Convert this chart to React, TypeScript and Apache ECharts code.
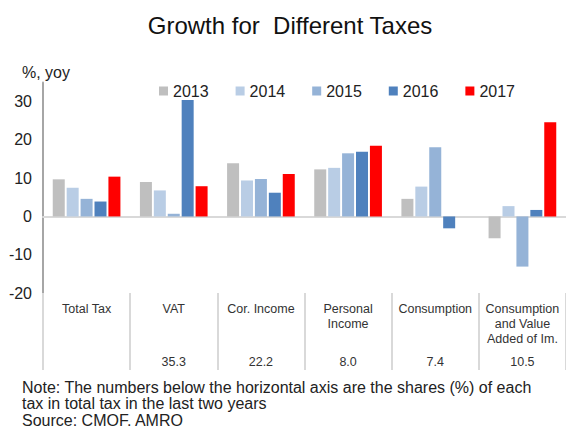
import React, { useEffect, useRef } from "react";
import * as echarts from "echarts";

const categories = [
  "Total Tax",
  "VAT",
  "Cor. Income",
  "Personal\nIncome",
  "Consumption",
  "Consumption\nand Value\nAdded of Im.",
];
const shares = ["", "35.3", "22.2", "8.0", "7.4", "10.5"];
const years = ["2013", "2014", "2015", "2016", "2017"];
const colors = ["#BFBFBF", "#B9CDE5", "#95B3D7", "#4F81BD", "#FF0000"];
const v2013 = [9.7, 9.0, 13.9, 12.3, 4.6, -5.7];
const v2014 = [7.5, 6.8, 9.4, 12.7, 7.8, 2.7];
const v2015 = [4.6, 0.7, 9.8, 16.5, 18.1, -13.1];
const v2016 = [3.9, 30.4, 6.2, 16.9, -3.1, 1.7];
const v2017 = [10.4, 7.9, 11.1, 18.5, null, 24.6];
const seriesValues = [v2013, v2014, v2015, v2016, v2017];
const noteLines = [
  "Note: The numbers below the horizontal axis are the shares (%) of each",
  "tax in total tax in the last two years",
  "Source: CMOF, AMRO",
];

const FONT = "'Liberation Sans', Arial, sans-serif";

export default function App() {
  const ref = useRef<HTMLDivElement>(null);
  useEffect(() => {
    document.body.style.margin = "0";
    if (!ref.current) return;
    const chart = echarts.init(ref.current, undefined, { renderer: "svg" });
    chart.setOption({
      animation: false,
      textStyle: { fontFamily: FONT },
      graphic: [
        {
          type: "text",
          x: 290,
          y: 25,
          style: {
            text: "Growth for  Different Taxes",
            fontSize: 24,
            fontFamily: FONT,
            fill: "#111",
            textAlign: "center",
            textVerticalAlign: "middle",
          },
        },
        {
          type: "text",
          x: 22,
          y: 72,
          style: {
            text: "%, yoy",
            fontSize: 16,
            fontFamily: FONT,
            fill: "#222",
            textVerticalAlign: "middle",
          },
        },
        {
          type: "text",
          x: 22,
          y: 379.5,
          style: {
            text: noteLines.join("\n"),
            fontSize: 16,
            lineHeight: 16.2,
            fontFamily: FONT,
            fill: "#222",
          },
        },
      ],
      legend: {
        left: 159,
        top: 83,
        padding: 0,
        itemWidth: 9,
        itemHeight: 9,
        itemGap: 27,
        icon: "rect",
        textStyle: { fontSize: 16, color: "#222", fontFamily: FONT },
        data: years,
      },
      grid: { left: 43, top: 82.5, height: 210.5, right: 0 },
      xAxis: [
        {
          type: "category",
          data: categories,
          axisLine: { onZero: true, lineStyle: { color: "#D9D9D9", width: 2 } },
          axisTick: { show: false },
          axisLabel: { show: false },
        },
        {
          type: "category",
          data: categories,
          position: "bottom",
          axisLine: { show: false, onZero: false },
          axisTick: {
            show: true,
            interval: 0,
            length: 77,
            inside: false,
            lineStyle: { color: "#D9D9D9", width: 2 },
          },
          axisLabel: {
            interval: 0,
            margin: 8.5,
            formatter: (value: string, index: number) => {
              const lines = value.split("\n");
              while (lines.length < 3) lines.push(" ");
              const share = shares[index] || " ";
              return lines.map((l) => `{n|${l}}`).join("\n") + `\n{v|${share}}`;
            },
            rich: {
              n: { fontSize: 12.5, lineHeight: 15, color: "#333", fontFamily: FONT, align: "center" },
              v: { fontSize: 12.5, lineHeight: 31, color: "#333", fontFamily: FONT, align: "center" },
            },
          },
        },
      ],
      yAxis: {
        type: "value",
        min: -20,
        max: 35,
        interval: 10,
        axisLine: { show: true, lineStyle: { color: "#A6A6A6", width: 2 } },
        axisTick: { show: false },
        splitLine: { show: false },
        axisLabel: {
          fontSize: 16,
          color: "#222",
          margin: 11,
          fontFamily: FONT,
          formatter: (v: number) => (v % 10 === 0 ? String(v) : ""),
        },
      },
      series: years.map((y, i) => ({
        name: y,
        type: "bar",
        xAxisIndex: 0,
        data: seriesValues[i],
        barWidth: 12,
        barGap: "16%",
        itemStyle: { color: colors[i] },
      })),
    });
    return () => chart.dispose();
  }, []);
  return <div ref={ref} style={{ width: 566, height: 426 }} />;
}
